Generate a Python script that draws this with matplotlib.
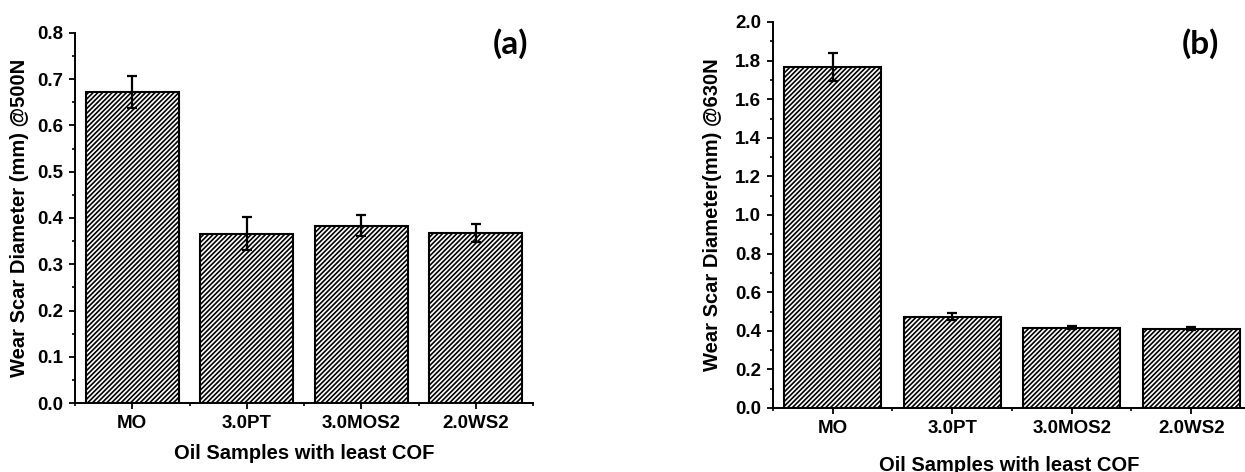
import matplotlib
matplotlib.use("Agg")
import matplotlib.pyplot as plt
from matplotlib.ticker import MultipleLocator

samples = ["MO", "3.0PT", "3.0MOS2", "2.0WS2"]

# (a) wear scar diameter at 500 N
wsd_500 = [0.672, 0.366, 0.383, 0.368]
err_500 = [0.034, 0.036, 0.023, 0.019]

# (b) wear scar diameter at 630 N
wsd_630 = [1.765, 0.474, 0.416, 0.411]
err_630 = [0.072, 0.016, 0.009, 0.009]

plt.rcParams["font.family"] = ["Liberation Sans", "DejaVu Sans"]
plt.rcParams["font.weight"] = "bold"
plt.rcParams["hatch.linewidth"] = 1.2

W, H = 1245, 472
fig = plt.figure(figsize=(W / 100, H / 100), dpi=100)


def px_axes(x0, x1, ytop, ybot):
    return fig.add_axes([x0 / W, (H - ybot) / H, (x1 - x0) / W, (ybot - ytop) / H])


def panel(ax, vals, errs, ylim, major, minor, ylabel, xlim):
    x = list(range(len(samples)))
    ax.bar(x, vals, width=0.81, color="white", edgecolor="black",
           hatch="///////", linewidth=1.5, zorder=2)
    ax.errorbar(x, vals, yerr=errs, fmt="none", ecolor="black",
                elinewidth=1.6, capsize=3.3, capthick=1.6, zorder=3)
    ax.set_xlim(*xlim)
    ax.set_ylim(*ylim)
    ax.set_xticks(x)
    ax.set_xticklabels(samples, fontsize=13.5, fontweight="bold")
    ax.xaxis.set_minor_locator(MultipleLocator(1, offset=0.5))
    ax.yaxis.set_major_locator(MultipleLocator(major))
    ax.yaxis.set_minor_locator(MultipleLocator(minor))
    ax.yaxis.set_major_formatter(lambda v, p: f"{v:.1f}")
    for lab in ax.get_yticklabels():
        lab.set_fontweight("bold")
    ax.tick_params(axis="both", which="major", direction="out", length=4.5,
                   width=1.3, labelsize=13.5, pad=4)
    ax.tick_params(axis="both", which="minor", direction="out", length=2.5, width=1.2)
    ax.spines["top"].set_visible(False)
    ax.spines["right"].set_visible(False)
    ax.spines["left"].set_linewidth(1.4)
    ax.spines["bottom"].set_linewidth(1.4)
    ax.set_ylabel(ylabel, fontsize=14.5, fontweight="bold")
    ax.set_xlabel("Oil Samples with least COF", fontsize=14.5, fontweight="bold",
                  labelpad=9)
    return ax


ax1 = px_axes(75, 533, 33, 403)
panel(ax1, wsd_500, err_500, (0, 0.8), 0.1, 0.05,
      "Wear Scar Diameter (mm) @500N", (-0.5, 3.5))
ax1.yaxis.set_label_coords(-0.1, 0.5)
fig.text(510 / W, 1 - 44 / H, "(a)", fontsize=24, fontweight="bold",
         family=["Lato", "DejaVu Sans"], ha="center", va="center")

ax2 = px_axes(773, 1245, 22, 408)
panel(ax2, wsd_630, err_630, (0, 2.0), 0.2, 0.1,
      "Wear Scar Diameter(mm) @630N", (-0.5, 3.45))
ax2.yaxis.set_label_coords(-0.107, 0.5)
ax2.xaxis.set_label_coords(0.5, -0.125)
fig.text(1200 / W, 1 - 44 / H, "(b)", fontsize=24, fontweight="bold",
         family=["Lato", "DejaVu Sans"], ha="center", va="center")

fig.savefig("out.png", dpi=100)
